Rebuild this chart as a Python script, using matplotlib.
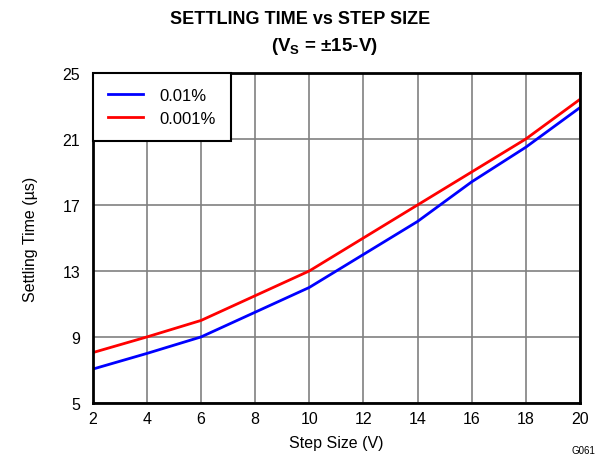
import matplotlib
matplotlib.use('agg')
import matplotlib.pyplot as plt

plt.rcParams['font.family'] = ['Liberation Sans', 'DejaVu Sans']
plt.rcParams['mathtext.fontset'] = 'custom'
plt.rcParams['mathtext.rm'] = 'Liberation Sans'
plt.rcParams['mathtext.bf'] = 'Liberation Sans:bold'

# data
step_size = [2, 4, 6, 8, 10, 12, 14, 16, 18, 20]
settle_001 = [7.05, 8.0, 9.0, 10.5, 12.0, 14.0, 16.0, 18.4, 20.5, 22.9]
settle_0001 = [8.05, 9.0, 10.0, 11.5, 13.0, 15.0, 17.0, 19.0, 21.0, 23.4]
xticks = list(range(2, 21, 2))
yticks = [5, 9, 13, 17, 21, 25]

fig = plt.figure(figsize=(6.11, 4.6), dpi=100)
ax = fig.add_axes([0.152, 0.122, 0.797, 0.717])

ax.plot(step_size, settle_001, color='#0000ff', lw=2, label='0.01%', zorder=3)
ax.plot(step_size, settle_0001, color='#ff0000', lw=2, label='0.001%', zorder=3)

ax.set_xlim(2, 20)
ax.set_ylim(5, 25)
ax.set_xticks(xticks)
ax.set_yticks(yticks)
ax.grid(True, color='#808080', lw=1.2)
ax.tick_params(labelsize=11.5, length=0)
ax.tick_params(axis='y', pad=9)
ax.tick_params(axis='x', pad=6)
for s in ax.spines.values():
    s.set_linewidth(2)
    s.set_zorder(4)

ax.set_xlabel('Step Size (V)', fontsize=11.5, labelpad=6)
ax.set_ylabel('Settling Time (µs)', fontsize=11.5, labelpad=18)

fig.text(0.491, 0.958, 'SETTLING TIME vs STEP SIZE', ha='center', va='center',
         fontsize=13, fontweight='bold')
fig.text(0.531, 0.898, r'(V$_\mathbf{S}$ = ±15-V)', ha='center', va='center',
         fontsize=13.5, fontweight='bold')

leg = ax.legend(loc='upper left', bbox_to_anchor=(0, 1), fontsize=12, fancybox=False,
                framealpha=1, edgecolor='black', borderaxespad=0, handlelength=2.1,
                borderpad=0.9, labelspacing=0.45, handletextpad=1.0)
leg.get_frame().set_linewidth(1.5)

fig.text(0.955, 0.02, 'G061', ha='center', va='center', fontsize=7)

plt.savefig('out.png', dpi=100)
plt.close()
